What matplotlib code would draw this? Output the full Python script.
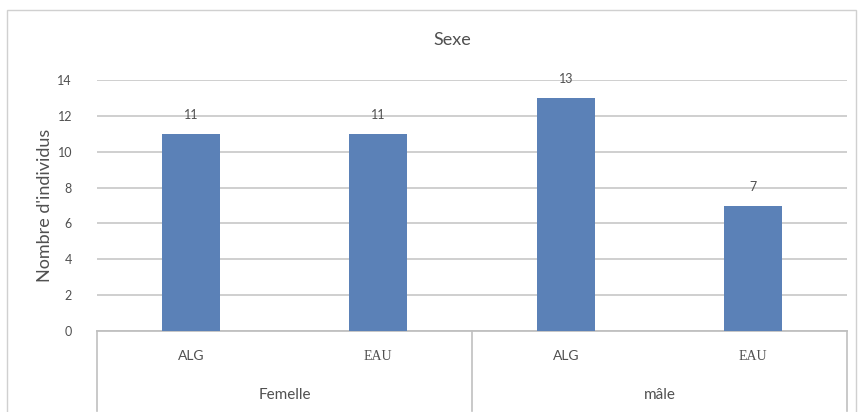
import matplotlib
matplotlib.use('Agg')
import matplotlib.pyplot as plt
from matplotlib.patches import Rectangle

# data
groups = ['Femelle', 'mâle']
origins = ['ALG', 'EAU', 'ALG', 'EAU']
counts = [11, 11, 13, 7]
yticks = [0, 2, 4, 6, 8, 10, 12, 14]

plt.rcParams['font.family'] = ['Lato', 'DejaVu Sans']
grey = '#505050'
bar_color = '#5B81B7'

fig = plt.figure(figsize=(8.59, 4.12), dpi=100)
W, H = 859, 412
ax = fig.add_axes([97 / W, (H - 331) / H, 750 / W, 251 / H])

# outer chart border
fig.patches.append(Rectangle((7 / W, -0.05), 849 / W, (H - 10) / H + 0.05,
                             transform=fig.transFigure, fill=False,
                             edgecolor='#d0d0d0', linewidth=1.0))

x = list(range(len(counts)))
bars = ax.bar(x, counts, width=0.31, color=bar_color, zorder=3)
for xi, v in zip(x, counts):
    ax.annotate(str(v), (xi, v), xytext=(0, 9), textcoords='offset points',
                ha='center', va='bottom', fontsize=9, color=grey)

ax.set_xlim(-0.5, len(counts) - 0.5)
ax.set_ylim(0, 14)
ax.set_yticks(yticks)
ax.set_yticklabels([str(t) for t in yticks], fontsize=9, color=grey)
ax.tick_params(axis='y', length=0, pad=18)
ax.set_xticks([])
ax.grid(axis='y', color='#cccccc', linewidth=1.3, zorder=0)
for s in ['top', 'right', 'left']:
    ax.spines[s].set_visible(False)
ax.spines['bottom'].set_color('#c0c0c0')
ax.spines['bottom'].set_linewidth(1.3)

# category labels (two levels)
trans = ax.get_xaxis_transform()
for xi, lab in zip(x, origins):
    fam = ['Liberation Serif'] if lab == 'EAU' else ['Lato']
    ax.text(xi, -0.10, lab, transform=trans, ha='center', va='center',
            fontsize=10, color=grey, family=fam)
for gi, g in enumerate(groups):
    ax.text(gi * 2 + 0.5, -0.255, g, transform=trans, ha='center', va='center',
            fontsize=11, color=grey)
for sx in [-0.5, 1.5, 3.5]:
    ax.plot([sx, sx], [0, -0.32], transform=trans, color='#c0c0c0',
            linewidth=1.2, clip_on=False)

fig.text(452 / W, 1 - 40 / H, 'Sexe', ha='center', va='center',
         fontsize=13, color=grey)
fig.text(45 / W, 1 - 205 / H, "Nombre d'individus", rotation=90,
         ha='center', va='center', fontsize=13, color=grey)

fig.savefig('out.png', dpi=100)
